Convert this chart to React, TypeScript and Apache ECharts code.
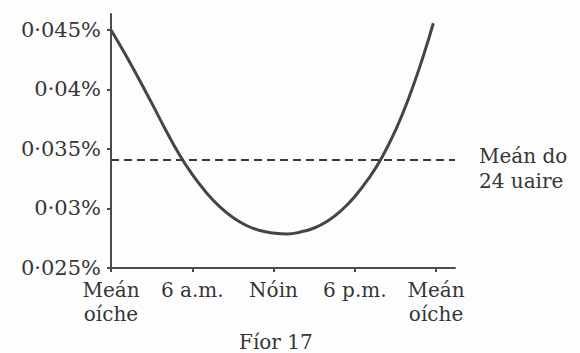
import React, { useEffect, useRef } from "react";
import * as echarts from "echarts";

const hours = [0, 1, 2, 3, 4, 5, 6, 7, 8, 9, 10, 11, 12, 13, 14, 15, 16, 17, 18, 19, 20, 21, 22, 23, 23.8];
const concentration = [
  0.045, 0.04307, 0.04101, 0.03887, 0.03668, 0.03462, 0.03286, 0.03139, 0.03017, 0.02924, 0.02857,
  0.02815, 0.02794, 0.02786, 0.02803, 0.02836, 0.02895, 0.02983, 0.03101, 0.03248, 0.03429, 0.03655,
  0.03933, 0.0426, 0.04556,
];
const meanValue = 0.0341;
const meanLines = ["Meán do", "24 uaire"];
const xTickValues = [0, 6, 12, 18, 24];
const xTickLabels = ["Meán\noíche", "6 a.m.", "Nóin", "6 p.m.", "Meán\noíche"];
const yTickValues = [0.025, 0.03, 0.035, 0.04, 0.045];
const yTickLabels = ["0·025%", "0·03%", "0·035%", "0·04%", "0·045%"];
const figureTitle = "Fíor 17";

const FONT = "DejaVu Serif";
const INK = "#363636";

export default function App() {
  const ref = useRef<HTMLDivElement>(null);
  useEffect(() => {
    if (!ref.current) return;
    const chart = echarts.init(ref.current, undefined, { renderer: "svg" });
    const idx = (arr: number[], v: number) => arr.findIndex((t) => Math.abs(t - v) < 1e-9);
    chart.setOption({
      animation: false,
      backgroundColor: "#fdfdfd",
      title: {
        text: figureTitle,
        left: 234,
        top: 327,
        textStyle: { fontFamily: FONT, fontSize: 20, fontWeight: "normal", color: INK },
      },
      grid: { left: 111, top: 14, right: 125, bottom: 85 },
      xAxis: {
        type: "value",
        min: 0,
        max: 25.4,
        splitLine: { show: false },
        axisLine: { lineStyle: { color: "#4c4c4c", width: 2 } },
        axisTick: { customValues: xTickValues, length: 4, lineStyle: { color: "#4c4c4c", width: 2 } },
        axisLabel: {
          customValues: xTickValues,
          formatter: (v: number) => {
            const i = idx(xTickValues, v);
            return i >= 0 ? xTickLabels[i] : "";
          },
          fontFamily: FONT,
          fontSize: 20,
          lineHeight: 24,
          color: INK,
          margin: 10,
        },
      },
      yAxis: {
        type: "value",
        min: 0.025,
        max: 0.04634,
        splitLine: { show: false },
        axisLine: { show: true, lineStyle: { color: "#4c4c4c", width: 2 } },
        axisTick: { show: true, customValues: yTickValues, length: 4, lineStyle: { color: "#4c4c4c", width: 2 } },
        axisLabel: {
          customValues: yTickValues,
          formatter: (v: number) => {
            const i = idx(yTickValues, v);
            return i >= 0 ? yTickLabels[i] : "";
          },
          fontFamily: FONT,
          fontSize: 21,
          color: INK,
          margin: 10,
        },
      },
      series: [
        {
          type: "line",
          data: hours.map((h, i) => [h, concentration[i]]),
          smooth: 0.5,
          showSymbol: false,
          lineStyle: { color: "#454545", width: 3 },
          markLine: {
            silent: true,
            symbol: "none",
            precision: 5,
            lineStyle: { color: "#3a3a3a", width: 2, type: [8, 5] },
            label: {
              show: true,
              position: "end",
              formatter: "{gap| }\n" + meanLines.map((l) => "{t|" + l + "}").join("\n"),
              distance: 24,
              align: "left",
              rich: {
                gap: { fontSize: 10, lineHeight: 17 },
                t: { fontFamily: FONT, fontSize: 20, lineHeight: 25, color: INK },
              },
            },
            data: [{ yAxis: meanValue }],
          },
        },
      ],
    });
    return () => chart.dispose();
  }, []);
  return (
    <div
      ref={ref}
      style={{ position: "fixed", left: 0, top: 0, width: 580, height: 353 }}
    />
  );
}
